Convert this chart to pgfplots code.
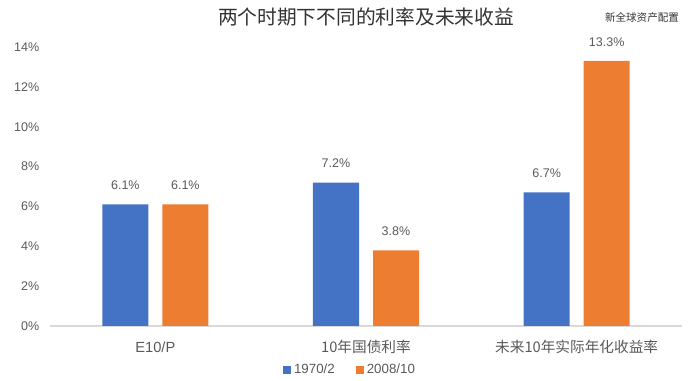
\documentclass[border=0pt]{standalone}
\usepackage{fontspec}
\setmainfont{Liberation Sans}
\newfontfamily\cjk{Noto Sans CJK SC}
\usepackage{pgfplots}
\pgfplotsset{compat=1.18}
\definecolor{cblue}{HTML}{4472C4}
\definecolor{corange}{HTML}{ED7D31}
\definecolor{txt}{HTML}{595959}
\definecolor{ttl}{HTML}{333333}
\definecolor{axln}{HTML}{D9D9D9}
\begin{document}
\begin{tikzpicture}
\useasboundingbox (-37.5pt,-41.25pt) rectangle (482.25pt,244.5pt);
\begin{axis}[
  at={(0pt,0pt)}, anchor=south west,
  scale only axis, width=474pt, height=209.25pt,
  xmin=-0.5, xmax=2.5, ymin=0, ymax=14,
  ybar, bar width=34.5pt,
  axis x line*=bottom, axis y line*=left,
  x axis line style={draw=axln, line width=0.8pt, -},
  y axis line style={draw=none},
  major tick length=0pt,
  xtick={0,1,2},
  xticklabels={E10/P, {\cjk 10年国债利率}, {\cjk 未来10年实际年化收益率}},
  xticklabel style={anchor=center, yshift=-15.75pt, font=\fontsize{11}{13}\selectfont, text=txt},
  ytick={0,2,4,6,8,10,12,14},
  yticklabel={\pgfmathprintnumber{\tick}\%},
  yticklabel style={anchor=east, xshift=-4.5pt, font=\fontsize{9.4}{11}\selectfont, text=txt},
  /pgf/number format/assume math mode=true,
  nodes near coords={\pgfmathprintnumber[fixed,precision=1,fixed zerofill]{\pgfplotspointmeta}\%},
  every node near coord/.append style={anchor=center, yshift=14.25pt, font=\fontsize{9.4}{11}\selectfont, text=txt},
  legend style={at={(rel axis cs:0.4755,0)}, anchor=center, yshift=-33pt, draw=none, fill=none,
    legend columns=2, font=\fontsize{10}{12}\selectfont, text=txt,
    /tikz/every even column/.append style={column sep=14pt}},
  legend image code/.code={\fill[#1] (0pt,-3pt) rectangle (6pt,3pt);},
]
\addplot[fill=cblue, draw=none, bar shift=-22.5pt] coordinates {(0,6.1) (1,7.2) (2,6.7)};
\addplot[fill=corange, draw=none, bar shift=22.5pt] coordinates {(0,6.1) (1,3.8) (2,13.3)};
\legend{1970/2, 2008/10}
\end{axis}
\node[text=ttl, font=\cjk\fontsize{14.8}{16}\selectfont] at (237pt,231.75pt) {两个时期下不同的利率及未来收益};
\node[text=ttl, font=\cjk\fontsize{7.9}{9}\selectfont] at (444pt,231.75pt) {新全球资产配置};
\end{tikzpicture}
\end{document}
